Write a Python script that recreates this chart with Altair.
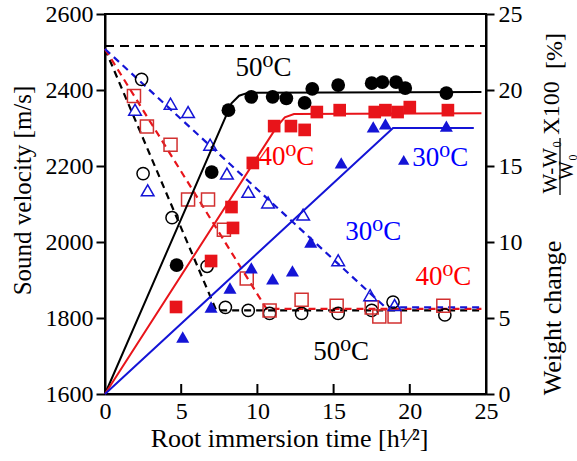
import altair as alt
import pandas as pd

# ---------------- data ----------------
# Sound velocity (left axis, m/s) - filled symbols
b_sv_x = [4.7, 7.0, 8.1, 9.6, 11.0, 11.9, 13.1, 13.6, 15.3, 17.5, 18.2, 19.1, 19.7, 22.4]
b_sv_y = [1939, 2184, 2347, 2382, 2382, 2378, 2366, 2403, 2413, 2418, 2421, 2421, 2405, 2392]
r_sv_x = [4.66, 6.96, 8.3, 8.4, 9.7, 11.1, 12.2, 13.1, 13.9, 15.4, 17.7, 18.4, 19.2, 20.0, 22.5]
r_sv_y = [1829, 1950, 2092, 2037, 2208, 2305, 2305, 2295, 2342, 2347, 2342, 2347, 2342, 2355, 2347]
u_sv_x = [5.1, 6.96, 8.2, 9.6, 11.0, 12.3, 13.5, 15.5, 17.6, 18.4, 22.4]
u_sv_y = [1750, 1829, 1879, 1932, 1903, 1924, 2000, 2208, 2303, 2311, 2305]

# fitted solid lines (sound velocity)
b_fit_x = [0, 8.3, 8.8, 9.4, 24.7]
b_fit_y = [1600, 2365, 2385, 2393, 2395]
r_fit_x = [0, 11.3, 11.8, 12.4, 24.7]
r_fit_y = [1600, 2305, 2328, 2337, 2339]
u_fit_x = [0, 18.9, 24.2]
u_fit_y = [1600, 2300, 2300]

# Weight change (right axis, %) - open symbols
b_w_x = [2.4, 2.5, 4.4, 6.7, 7.9, 9.4, 10.8, 12.9, 15.3, 17.5, 18.9, 22.3]
b_w_y = [20.7, 14.5, 11.6, 8.4, 5.7, 5.5, 5.3, 5.3, 5.3, 5.5, 6.05, 5.2]
r_w_x = [1.9, 2.75, 4.3, 5.45, 6.76, 7.8, 9.3, 10.8, 12.9, 15.2, 17.5, 18.0, 19.0, 22.2]
r_w_y = [19.6, 17.6, 16.4, 12.8, 12.8, 10.8, 7.6, 5.5, 6.2, 5.8, 5.7, 5.1, 5.1, 5.8]
u_w_x = [1.97, 2.8, 4.3, 5.45, 6.9, 8.0, 9.4, 10.7, 13.0, 15.3, 17.4, 19.0]
u_w_y = [18.7, 13.4, 19.1, 18.55, 16.4, 14.5, 13.3, 12.6, 11.8, 8.8, 6.5, 5.85]

# fitted dashed lines (weight change)
b_wfit_x = [0, 7.3, 24.7]
b_wfit_y = [22.7, 5.5, 5.5]
r_wfit_x = [0, 10.6, 24.7]
r_wfit_y = [22.7, 5.6, 5.6]
u_wfit_x = [0, 18.4, 24.7]
u_wfit_y = [22.7, 5.7, 5.7]
top_x = [0, 25]
top_y = [22.9, 22.9]

# annotations (in sound-velocity units)
lab_text = ["50⁰C", "40⁰C", "30⁰C", "30⁰C", "40⁰C", "50⁰C"]
lab_x = [10.4, 11.9, 22.0, 17.6, 22.2, 15.5]
lab_y = [2458, 2224, 2221, 2026, 1908, 1711]
lab_col = ["black", "red", "blue", "blue", "red", "black"]
tri_x = [19.6]
tri_y = [2216]

x_ticks = [0, 5, 10, 15, 20, 25]
sv_ticks = [1600, 1800, 2000, 2200, 2400, 2600]
w_ticks = [0, 5, 10, 15, 20, 25]
x_inner_ticks = [5, 10, 15, 20]

RED = "#e8141a"
RED_O = "#d23030"
BLUE = "#1414d6"
FONT = "Times New Roman, Liberation Serif, DejaVu Serif, serif"
W, H = 381, 380

def df(xs, ys):
    return pd.DataFrame({"x": xs, "y": ys})

xs = alt.Scale(domain=[0, 25], nice=False, zero=False)
x_enc = alt.X("x:Q", scale=xs, axis=alt.Axis(
    values=x_ticks, format="d", tickSize=0, labelPadding=5, labelFontSize=24, labelFont=FONT,
    labelColor="black", title="Root immersion time [h¹⁄²]", titleFontSize=26,
    titleFont=FONT, titleFontWeight="normal", titleColor="black",
    titleX=184, titleY=52, titleBaseline="alphabetic", grid=False,
    domainColor="black", domainWidth=2, labelFlush=False))

sv_scale = alt.Scale(domain=[1600, 2600], nice=False, zero=False)
sv_axis = alt.Axis(values=sv_ticks, format="d", orient="left", tickSize=9, tickWidth=2, tickColor="black",
                   labelPadding=3, labelFontSize=24, labelFont=FONT, labelColor="black",
                   title="Sound velocity [m/s]", titleFontSize=25, titleFont=FONT,
                   titleFontWeight="normal", titleColor="black", titleX=-83, titleY=176,
                   titleAngle=270, titleAlign="center", titleBaseline="middle",
                   grid=False, domainColor="black", domainWidth=2, labelFlush=False)
w_scale = alt.Scale(domain=[0, 25], nice=False, zero=False)
w_axis = alt.Axis(values=w_ticks, format="d", orient="right", tickSize=8, tickWidth=2, tickColor="black",
                  labelPadding=4, labelFontSize=24, labelFont=FONT, labelColor="black",
                  title=None, grid=False, domainColor="black", domainWidth=2, labelFlush=False)

def sv_y():
    return alt.Y("y:Q", scale=sv_scale, axis=sv_axis)

def w_y():
    return alt.Y("y:Q", scale=w_scale, axis=w_axis)

# ----- weight-change layer (open symbols, dashed lines) -----
w_layers = []
w_layers.append(alt.Chart(df(top_x, top_y)).mark_line(color="black", strokeWidth=2, strokeDash=[9, 6]).encode(x=x_enc, y=w_y()))
for fx, fy, c in [(b_wfit_x, b_wfit_y, "black"), (r_wfit_x, r_wfit_y, RED), (u_wfit_x, u_wfit_y, BLUE)]:
    w_layers.append(alt.Chart(df(fx, fy)).mark_line(color=c, strokeWidth=2.2, strokeDash=[7, 5]).encode(x=x_enc, y=w_y()))
w_layers.append(alt.Chart(df(b_w_x, b_w_y)).mark_point(shape="circle", filled=False, color="black", size=150, strokeWidth=1.5, opacity=1).encode(x=x_enc, y=w_y()))
w_layers.append(alt.Chart(df(r_w_x, r_w_y)).mark_point(shape="square", filled=False, color=RED_O, size=170, strokeWidth=1.5, opacity=1).encode(x=x_enc, y=w_y()))
w_layers.append(alt.Chart(df(u_w_x, u_w_y)).mark_point(shape="triangle-up", filled=False, color=BLUE, size=160, strokeWidth=1.5, opacity=1).encode(x=x_enc, y=w_y()))
w_layer = alt.layer(*w_layers)

# ----- sound-velocity layer (filled symbols, solid lines) -----
s_layers = []
for fx, fy, c in [(b_fit_x, b_fit_y, "black"), (r_fit_x, r_fit_y, RED), (u_fit_x, u_fit_y, BLUE)]:
    s_layers.append(alt.Chart(df(fx, fy)).mark_line(color=c, strokeWidth=2).encode(x=x_enc, y=sv_y()))
s_layers.append(alt.Chart(df(b_sv_x, b_sv_y)).mark_point(shape="circle", filled=True, color="black", size=190, opacity=1).encode(x=x_enc, y=sv_y()))
s_layers.append(alt.Chart(df(r_sv_x, r_sv_y)).mark_point(shape="square", filled=True, color=RED, size=160, opacity=1).encode(x=x_enc, y=sv_y()))
s_layers.append(alt.Chart(df(u_sv_x, u_sv_y)).mark_point(shape="triangle-up", filled=True, color=BLUE, size=170, opacity=1).encode(x=x_enc, y=sv_y()))
s_layers.append(alt.Chart(df(tri_x, tri_y)).mark_point(shape="triangle-up", filled=True, color=BLUE, size=130, opacity=1).encode(x=x_enc, y=sv_y()))
lab_df = pd.DataFrame({"x": lab_x, "y": lab_y, "t": lab_text, "c": lab_col})
s_layers.append(alt.Chart(lab_df).mark_text(font=FONT, fontSize=27, align="center", baseline="middle").encode(
    x=x_enc, y=sv_y(), text="t:N", color=alt.Color("c:N", scale=None)))
s_layers.append(alt.Chart(pd.DataFrame({"x": x_inner_ticks})).mark_rule(color="black", strokeWidth=2).encode(
    x=x_enc, y=alt.value(H), y2=alt.value(H - 10)))

# right axis title pieces
one = pd.DataFrame({"a": [0]})
def rtext(txt, px, py, size=25):
    return alt.Chart(one).mark_text(font=FONT, fontSize=size, angle=270, align="center",
                                    baseline="middle", color="black").encode(
        x=alt.value(px), y=alt.value(py), text=alt.value(txt))
s_layers.append(rtext("Weight change", 448, 304, 26))
s_layers.append(rtext("X100", 447, 94, 24))
s_layers.append(rtext("[%]", 450, 37, 24))
s_layers.append(rtext("W-W₀", 446, 153, 21))
s_layers.append(rtext("W₀", 462, 153, 20))
s_layers.append(alt.Chart(one).mark_rule(color="black", strokeWidth=1.3).encode(
    x=alt.value(455), y=alt.value(124), y2=alt.value(181)))
s_layer = alt.layer(*s_layers)

chart = alt.layer(w_layer, s_layer).resolve_scale(y="independent").properties(
    width=W, height=H,
    autosize=alt.AutoSizeParams(type="none"),
    padding={"left": 105, "top": 14, "right": 91, "bottom": 67},
    background="white",
).configure_view(stroke="black", strokeWidth=2).configure_text(font=FONT)

chart.save("out.html", embed_options={"renderer": "svg", "actions": False})
